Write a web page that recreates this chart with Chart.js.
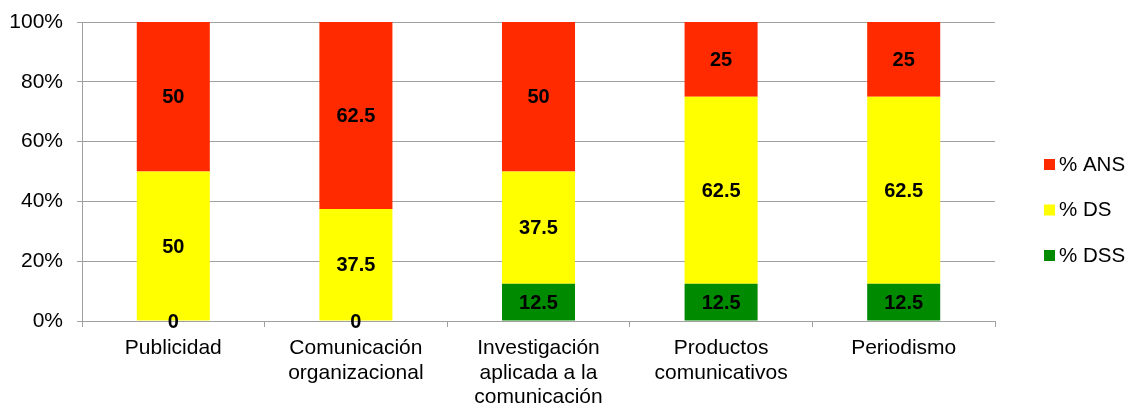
<!DOCTYPE html>
<html>
<head>
<meta charset="utf-8">
<script src="https://cdn.jsdelivr.net/npm/chart.js@4"></script>
<style>
  html, body { margin: 0; padding: 0; background: #fff; }
  #wrap { width: 1130px; height: 409px; position: relative; }
</style>
</head>
<body>
<div id="wrap"><canvas id="myChart"></canvas></div>
<script>
(function() {
	'use strict';

	// categories (multi-line labels)
	var areas = [
		'Publicidad',
		['Comunicación', 'organizacional'],
		['Investigación', 'aplicada a la', 'comunicación'],
		['Productos', 'comunicativos'],
		'Periodismo'
	];
	// series values, percent
	var dss = [0, 0, 12.5, 12.5, 12.5];
	var ds = [50, 37.5, 37.5, 62.5, 62.5];
	var ans = [50, 62.5, 50, 25, 25];
	var yTicks = [0, 20, 40, 60, 80, 100];

	var FONT = "'Liberation Sans', Arial, sans-serif";
	Chart.defaults.font.family = FONT;
	Chart.defaults.color = '#000';

	// value labels in the middle of each segment
	var valueLabels = {
		id: 'valueLabels',
		afterDatasetsDraw: function(chart) {
			var ctx = chart.ctx;
			ctx.save();
			ctx.font = 'bold 20px ' + FONT;
			ctx.fillStyle = '#000';
			ctx.textAlign = 'center';
			ctx.textBaseline = 'middle';
			chart.data.datasets.forEach(function(ds, i) {
				var meta = chart.getDatasetMeta(i);
				meta.data.forEach(function(bar, j) {
					var v = ds.data[j];
					if (v === null || v === undefined) return;
					var y = (bar.y + bar.base) / 2;
					ctx.fillText(String(v), bar.x, y + 1);
				});
			});
			ctx.restore();
		}
	};

	// legend on the right, top item = last dataset
	var sideLegend = {
		id: 'sideLegend',
		afterDraw: function(chart) {
			var ctx = chart.ctx;
			var items = chart.data.datasets.slice().reverse();
			var x = 1044, y0 = 164, step = 45.5;
			ctx.save();
			ctx.font = '20.5px ' + FONT;
			ctx.textBaseline = 'middle';
			ctx.textAlign = 'left';
			items.forEach(function(ds, k) {
				var y = y0 + k * step;
				ctx.fillStyle = ds.backgroundColor;
				ctx.fillRect(x, y - 5, 11, 11);
				ctx.fillStyle = '#000';
				ctx.fillText(ds.label, x + 15, y + 1);
			});
			ctx.restore();
		}
	};

	var ctx = document.getElementById('myChart').getContext('2d');
	var myChart = new Chart(ctx, {
		type: 'bar',
		data: {
			labels: areas,
			datasets: [
				{ label: '% DSS', data: dss, backgroundColor: '#008a00' },
				{ label: '% DS', data: ds, backgroundColor: '#ffff00' },
				{ label: '% ANS', data: ans, backgroundColor: '#ff2a00' }
			]
		},
		options: {
			responsive: true,
			maintainAspectRatio: false,
			animation: false,
			layout: { padding: { top: 22, right: 135, left: 0, bottom: 0 } },
			datasets: {
				bar: { categoryPercentage: 1, barPercentage: 0.4 }
			},
			plugins: {
				legend: { display: false },
				tooltip: { enabled: false }
			},
			scales: {
				x: {
					stacked: true,
					grid: {
						offset: true,
						drawOnChartArea: false,
						drawTicks: true,
						tickLength: 6,
						color: '#a0a0a0'
					},
					border: { color: '#a0a0a0' },
					ticks: {
						maxRotation: 0,
						autoSkip: false,
						padding: 9,
						font: { size: 21, lineHeight: 1.17 },
						color: '#000'
					},
					afterFit: function(scale) {
						scale.height = 88;
						scale.paddingLeft = 0;
						scale.paddingRight = 0;
					}
				},
				y: {
					stacked: true,
					min: 0,
					max: 100,
					afterBuildTicks: function(scale) {
						scale.ticks = yTicks.map(function(v) { return { value: v }; });
					},
					grid: {
						color: '#a0a0a0',
						tickLength: 5
					},
					border: { color: '#a0a0a0' },
					ticks: {
						padding: 14,
						font: { size: 21 },
						color: '#000',
						callback: function(v) { return v + '%'; }
					},
					afterFit: function(scale) {
						scale.width = 82;
						scale.paddingTop = 0;
						scale.paddingBottom = 0;
					}
				}
			}
		},
		plugins: [valueLabels, sideLegend]
	});
})();
</script>
</body>
</html>
